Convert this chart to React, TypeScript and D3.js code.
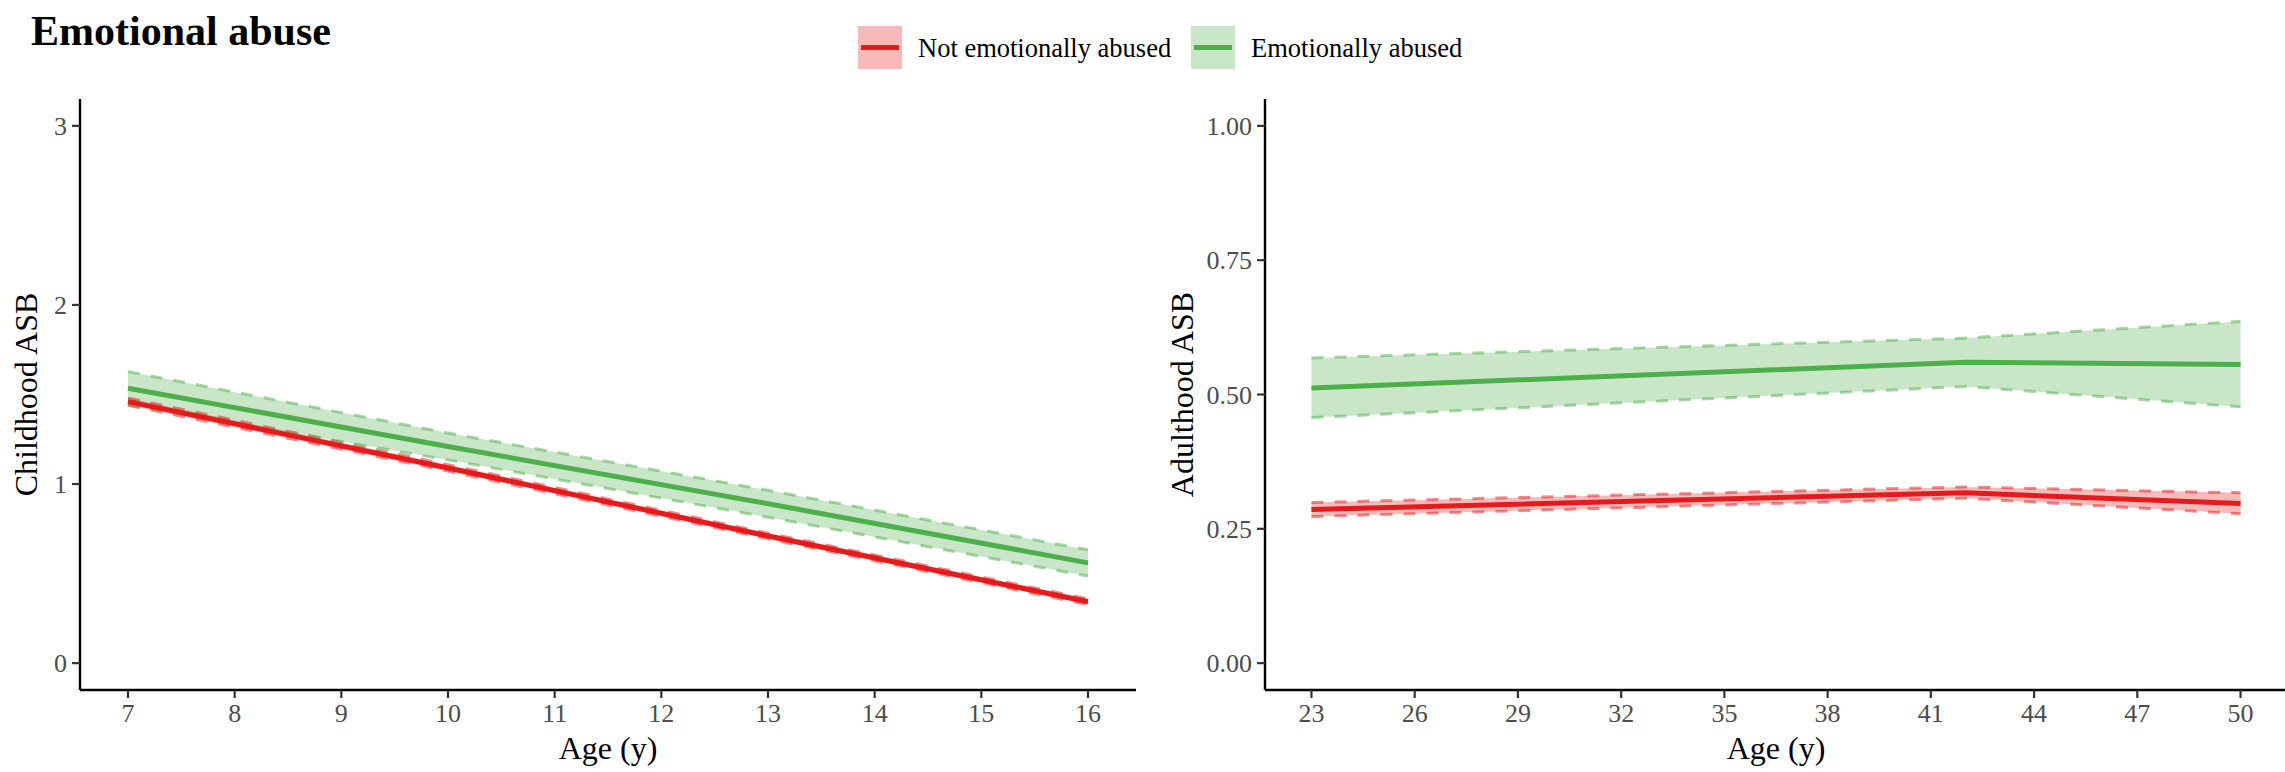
import React from 'react';
import * as d3 from 'd3';

// groups and colours (ColorBrewer Set1 red / green)
const groups = ['Not emotionally abused', 'Emotionally abused'];
const groupColors = ['#E41A1C', '#4DAF4A'];

// childhood panel
const childAges = [7, 10, 13, 16];
const childNotMean = [1.46, 1.09, 0.71, 0.343];
const childNotLower = [1.44, 1.072, 0.694, 0.327];
const childNotUpper = [1.48, 1.108, 0.726, 0.359];
const childAbMean = [1.535, 1.21, 0.89, 0.56];
const childAbLower = [1.442, 1.135, 0.815, 0.486];
const childAbUpper = [1.628, 1.285, 0.965, 0.633];
const childXTicks = [7, 8, 9, 10, 11, 12, 13, 14, 15, 16];
const childYTicks = [0, 1, 2, 3];
const childYLabels = ['0', '1', '2', '3'];

// adulthood panel
const adultAges = [23, 42, 50];
const adultNotMean = [0.286, 0.317, 0.297];
const adultNotLower = [0.273, 0.307, 0.278];
const adultNotUpper = [0.299, 0.328, 0.317];
const adultAbMean = [0.512, 0.56, 0.556];
const adultAbLower = [0.457, 0.515, 0.477];
const adultAbUpper = [0.568, 0.605, 0.636];
const adultXTicks = [23, 26, 29, 32, 35, 38, 41, 44, 47, 50];
const adultYTicks = [0, 0.25, 0.5, 0.75, 1];
const adultYLabels = ['0.00', '0.25', '0.50', '0.75', '1.00'];

const W = 2285;
const H = 772;
const font = '"Liberation Serif", "Times New Roman", serif';
const top = 99;
const bottom = 690;

type Series = { mean: number[]; lower: number[]; upper: number[] };

function Panel(props: {
  left: number;
  right: number;
  ages: number[];
  series: Series[];
  xDomain: [number, number];
  yDomain: [number, number];
  xTicks: number[];
  yTicks: number[];
  yLabels: string[];
  yTitle: string;
  titleX: number;
}) {
  const { left, right, ages, series, xDomain, yDomain, xTicks, yTicks, yLabels, yTitle, titleX } = props;
  const x = d3.scaleLinear().domain(xDomain).range([left, right]);
  const y = d3.scaleLinear().domain(yDomain).range([bottom, top]);

  const area = d3
    .area<number>()
    .x((d, i) => x(ages[i]))
    .y0((d, i) => y(d))
    .y1((d, i) => y(d));

  return (
    <g>
      {series.map((s, k) => {
        const a = d3
          .area<number>()
          .x((d) => x(d))
          .y0((d, i) => y(s.lower[i]))
          .y1((d, i) => y(s.upper[i]));
        return <path key={'r' + k} d={a(ages) || ''} fill={groupColors[k]} fillOpacity={0.3} stroke="none" />;
      })}
      {series.map((s, k) => {
        const lo = d3.line<number>().x((d, i) => x(ages[i])).y((d) => y(d));
        return (
          <g key={'d' + k}>
            <path d={lo(s.lower) || ''} fill="none" stroke={groupColors[k]} strokeOpacity={0.5} strokeWidth={3} strokeDasharray="12,11" />
            <path d={lo(s.upper) || ''} fill="none" stroke={groupColors[k]} strokeOpacity={0.5} strokeWidth={3} strokeDasharray="12,11" />
          </g>
        );
      })}
      {series.map((s, k) => {
        const ln = d3.line<number>().x((d, i) => x(ages[i])).y((d) => y(d));
        return <path key={'l' + k} d={ln(s.mean) || ''} fill="none" stroke={groupColors[k]} strokeWidth={5} />;
      })}

      {/* axes */}
      <line x1={left} x2={right} y1={bottom} y2={bottom} stroke="#000" strokeWidth={2.4} />
      <line x1={left} x2={left} y1={top} y2={bottom} stroke="#000" strokeWidth={2.4} />
      {xTicks.map((t) => (
        <g key={'xt' + t}>
          <line x1={x(t)} x2={x(t)} y1={bottom} y2={bottom + 8} stroke="#333" strokeWidth={2.2} />
          <text x={x(t)} y={bottom + 32} textAnchor="middle" fontFamily={font} fontSize={26} fill="#4D4D4D">
            {t}
          </text>
        </g>
      ))}
      {yTicks.map((t, i) => (
        <g key={'yt' + t}>
          <line x1={left - 8} x2={left} y1={y(t)} y2={y(t)} stroke="#333" strokeWidth={2.2} />
          <text x={left - 13} y={y(t) + 9} textAnchor="end" fontFamily={font} fontSize={26} fill="#4D4D4D">
            {yLabels[i]}
          </text>
        </g>
      ))}
      <text x={(left + right) / 2} y={H - 13} textAnchor="middle" fontFamily={font} fontSize={32} fill="#000">
        Age (y)
      </text>
      <text
        transform={`translate(${titleX},${(top + bottom) / 2}) rotate(-90)`}
        textAnchor="middle"
        fontFamily={font}
        fontSize={32}
        fill="#000"
      >
        {yTitle}
      </text>
    </g>
  );
}

export default function App() {
  const childSeries: Series[] = [
    { mean: childNotMean, lower: childNotLower, upper: childNotUpper },
    { mean: childAbMean, lower: childAbLower, upper: childAbUpper },
  ];
  const adultSeries: Series[] = [
    { mean: adultNotMean, lower: adultNotLower, upper: adultNotUpper },
    { mean: adultAbMean, lower: adultAbLower, upper: adultAbUpper },
  ];

  const keyX = [858, 1191];
  const textX = [918, 1251];

  return (
    <svg width={W} height={H} style={{ position: 'absolute', left: 0, top: 0, background: '#fff' }}>
      <rect width={W} height={H} fill="#fff" />
      <text x={31} y={45} fontFamily={font} fontWeight="bold" fontSize={42} fill="#000">
        Emotional abuse
      </text>

      {groups.map((g, k) => (
        <g key={g}>
          <rect x={keyX[k]} y={26} width={44} height={43} fill={groupColors[k]} fillOpacity={0.3} />
          <line x1={keyX[k] + 3} x2={keyX[k] + 41} y1={47.5} y2={47.5} stroke={groupColors[k]} strokeWidth={5} />
          <text x={textX[k]} y={57} fontFamily={font} fontSize={26.5} fill="#000">
            {g}
          </text>
        </g>
      ))}

      <Panel
        left={80}
        right={1136}
        ages={childAges}
        series={childSeries}
        xDomain={[6.55, 16.45]}
        yDomain={[-0.15, 3.15]}
        xTicks={childXTicks}
        yTicks={childYTicks}
        yLabels={childYLabels}
        yTitle="Childhood ASB"
        titleX={37}
      />
      <Panel
        left={1265}
        right={2287}
        ages={adultAges}
        series={adultSeries}
        xDomain={[21.65, 51.35]}
        yDomain={[-0.05, 1.05]}
        xTicks={adultXTicks}
        yTicks={adultYTicks}
        yLabels={adultYLabels}
        yTitle="Adulthood ASB"
        titleX={1193}
      />
    </svg>
  );
}
